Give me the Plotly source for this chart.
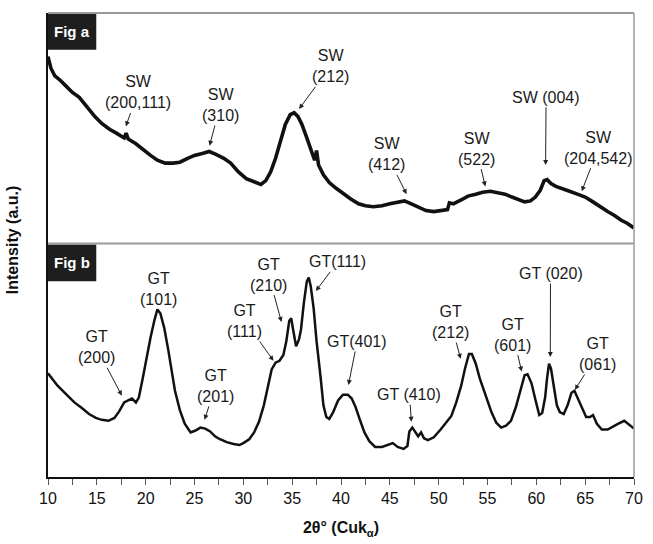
import plotly.graph_objects as go

# ---------------- data (2theta in degrees, intensity in a.u.) ----------------
sw_2theta = [10.0, 10.3, 10.7, 11.2, 11.8, 12.5, 13.2, 14.0, 14.8, 15.5, 16.3, 17.0, 17.8, 18.0, 18.2,
             19.0, 19.8, 20.5, 21.2, 22.0, 22.8, 23.5, 24.3, 25.0, 25.8, 26.5, 27.2, 28.0, 28.7, 29.5,
             30.3, 31.0, 31.8, 32.3, 32.8, 33.3, 33.8, 34.3, 34.8, 35.2, 35.6, 36.0, 36.5, 37.0, 37.3,
             37.5, 37.7, 38.2, 38.8, 39.5, 40.3, 41.0, 41.8, 42.5, 43.3, 44.2, 45.0, 45.8, 46.5, 47.2,
             48.0, 48.7, 49.5, 50.3, 50.9, 51.1, 51.5, 52.3, 53.0, 53.8, 54.5, 55.3, 56.0, 56.8, 57.5,
             58.2, 58.8, 59.4, 59.9, 60.4, 60.8, 61.1, 61.5, 62.0, 62.7, 63.4, 64.2, 65.0, 65.8, 66.5,
             67.3, 68.0, 68.7, 69.3, 70.0]
sw_intensity = [193, 181, 173, 169, 163, 156, 151, 141, 131, 124, 118, 114, 109, 114, 108,
                103, 96, 91, 86, 83, 83, 84, 88, 91, 93, 95, 92, 88, 83, 74,
                67, 64, 61, 65, 74, 88, 106, 123, 133, 135, 131, 123, 109, 93, 86,
                96, 81, 71, 63, 57, 51, 46, 41, 39, 38, 39, 41, 43, 44, 41,
                37, 34, 33, 34, 35, 42, 41, 45, 49, 51, 53, 54, 53, 51, 48,
                45, 43, 44, 48, 55, 65, 66, 62, 59, 56, 54, 51, 48, 43, 38,
                33, 29, 24, 21, 16]

gt_2theta = [10.0, 10.5, 11.0, 11.9, 12.7, 13.5, 14.2, 14.9, 15.5, 16.2, 16.8, 17.3, 17.8, 18.2, 18.6,
             19.0, 19.3, 19.7, 20.1, 20.5, 20.9, 21.2, 21.5, 21.9, 22.3, 22.7, 23.0, 23.5, 24.0, 24.6,
             25.1, 25.6, 26.1, 26.6, 27.1, 27.6, 28.3, 29.0, 29.6, 30.0, 30.6, 31.1, 31.6, 32.1, 32.5,
             32.9, 33.3, 33.7, 34.1, 34.4, 34.7, 34.9, 35.1, 35.4, 35.7, 35.9, 36.2, 36.5, 36.7, 36.9,
             37.2, 37.5, 37.9, 38.2, 38.5, 38.8, 39.2, 39.7, 40.2, 40.7, 41.1, 41.5, 41.9, 42.4, 42.9,
             43.5, 44.2, 44.8, 45.3, 45.8, 46.4, 46.8, 47.0, 47.3, 47.6, 47.9, 48.2, 48.5, 48.9, 49.5,
             50.2, 50.8, 51.3, 51.8, 52.3, 52.7, 53.1, 53.4, 53.8, 54.2, 54.8, 55.4, 55.9, 56.4, 56.9,
             57.4, 57.9, 58.4, 58.8, 59.1, 59.5, 59.9, 60.3, 60.6, 60.9, 61.1, 61.3, 61.5, 61.8, 62.1,
             62.4, 62.8, 63.2, 63.6, 63.9, 64.3, 64.7, 65.1, 65.5, 65.8, 66.2, 66.7, 67.3, 67.8, 68.4,
             69.0, 69.5, 70.0]
gt_intensity = [107, 100, 94, 85, 77, 71, 65, 61, 59, 58, 61, 68, 77, 79, 81,
                77, 82, 102, 124, 144, 162, 173, 169, 154, 132, 107, 89, 69, 55, 46,
                48, 51, 50, 47, 42, 39, 36, 34, 33, 35, 39, 46, 57, 74, 94,
                111, 118, 120, 126, 140, 161, 164, 152, 135, 142, 152, 180, 202, 206, 197,
                174, 140, 104, 74, 62, 60, 67, 79, 85, 85, 81, 72, 60, 46, 37,
                31, 31, 33, 35, 31, 29, 32, 47, 51, 47, 42, 46, 40, 38, 41,
                49, 56, 63, 77, 94, 112, 127, 127, 117, 102, 84, 67, 56, 51, 53,
                58, 72, 92, 105, 106, 97, 80, 64, 66, 82, 102, 117, 112, 92, 74,
                67, 65, 74, 87, 89, 80, 70, 62, 62, 64, 55, 49, 49, 52, 55,
                58, 54, 50]

tick_values = [10, 15, 20, 25, 30, 35, 40, 45, 50, 55, 60, 65, 70]

# annotations: (label, text x, text y, tip x, tip y)  -- tip None = no arrow
sw_labels = [
    ("SW<br>(200,111)", 19.2, 156, 17.97, 121),
    ("SW<br>(310)", 27.65, 143, 26.54, 101),
    ("SW<br>(212)", 38.94, 183, 35.71, 139),
    ("SW<br>(412)", 44.69, 92, 46.71, 51),
    ("SW<br>(522)", 53.87, 98, 54.77, 59),
    ("SW (004)", 61.0, 151, 60.95, 81),
    ("SW<br>(204,542)", 66.37, 99, 64.65, 54),
]
gt_labels = [
    ("GT<br>(200)", 14.94, 134, 17.56, 84),
    ("GT<br>(101)", 21.29, 194, None, None),
    ("GT<br>(201)", 27.14, 94, 26.03, 59),
    ("GT<br>(111)", 30.17, 161, 33.09, 120),
    ("GT<br>(210)", 32.59, 209, 33.90, 160),
    ("GT(111)", 39.65, 222, 37.43, 192),
    ("GT(401)", 41.66, 140, 40.76, 95),
    ("GT (410)", 47.01, 85, 47.21, 57),
    ("GT<br>(212)", 51.24, 160, 52.25, 122),
    ("GT<br>(601)", 57.60, 147, 58.50, 109),
    ("GT (020)", 61.45, 210, 61.43, 124),
    ("GT<br>(061)", 66.27, 127, 63.95, 90),
]

# ---------------- figure ----------------
split = 241 / 479
font_main = "Liberation Sans, Arial, sans-serif"
line_col = "#111111"
grey = "#9a9a9a"
lab_font = dict(family=font_main, size=16, color="#1a1a1a")

fig = go.Figure()
fig.add_trace(go.Scatter(x=sw_2theta, y=sw_intensity, mode="lines", xaxis="x", yaxis="y2",
                         line=dict(color=line_col, width=3.6), showlegend=False, hoverinfo="skip"))
fig.add_trace(go.Scatter(x=gt_2theta, y=gt_intensity, mode="lines", xaxis="x", yaxis="y",
                         line=dict(color=line_col, width=2.5), showlegend=False, hoverinfo="skip"))

annotations = []
for yref, labels in (("y2", sw_labels), ("y", gt_labels)):
    for text, tx, ty, px, py in labels:
        if px is None:
            annotations.append(dict(x=tx, y=ty, xref="x", yref=yref, text=text, showarrow=False,
                                    xanchor="center", yanchor="middle", font=lab_font))
        else:
            annotations.append(dict(x=px, y=py, xref="x", yref=yref, ax=tx, ay=ty,
                                    axref="x", ayref=yref, text=text, showarrow=True,
                                    arrowhead=2, arrowsize=1, arrowwidth=1, arrowcolor="#222222",
                                    font=lab_font))

# panel tags
annotations.append(dict(x=49 / 595 / 2, y=1 - 19 / 479, xref="paper", yref="paper", text="<b>Fig a</b>",
                        xanchor="center", yanchor="middle",
                        showarrow=False, font=dict(family=font_main, size=15, color="white")))
annotations.append(dict(x=49 / 595 / 2, y=split - 20 / 479, xref="paper", yref="paper", text="<b>Fig b</b>",
                        xanchor="center", yanchor="middle",
                        showarrow=False, font=dict(family=font_main, size=15, color="white")))
# y-axis title
annotations.append(dict(x=-36 / 595, y=244 / 479, xref="paper", yref="paper", text="<b>Intensity (a.u.)</b>",
                        xanchor="center", yanchor="middle",
                        textangle=-90, showarrow=False, font=dict(family=font_main, size=16, color="#111111")))

shapes = [
    # black boxes for panel tags
    dict(type="rect", xref="paper", yref="paper", x0=0, x1=49 / 595, y0=1 - 38 / 479, y1=1,
         fillcolor="#1e1e1e", line=dict(width=0)),
    dict(type="rect", xref="paper", yref="paper", x0=0, x1=49 / 595, y0=split - 39 / 479, y1=split - 1 / 479,
         fillcolor="#1e1e1e", line=dict(width=0)),
    # grey frame lines
    dict(type="line", xref="paper", yref="paper", x0=0, x1=1, y0=1, y1=1, line=dict(color=grey, width=2)),
    dict(type="line", xref="paper", yref="paper", x0=1, x1=1, y0=0, y1=1, line=dict(color=grey, width=1.5)),
    dict(type="line", xref="paper", yref="paper", x0=0, x1=1, y0=split, y1=split, line=dict(color=grey, width=2)),
]

fig.update_layout(
    width=653, height=544,
    margin=dict(l=48, r=10, t=13, b=52),
    paper_bgcolor="white", plot_bgcolor="white",
    font=dict(family=font_main, color="#111111"),
    xaxis=dict(range=[10, 70], tickvals=tick_values, ticks="outside", ticklen=6, tickwidth=1,
               tickcolor="#555555", showline=True, linecolor="#111111", linewidth=1.5,
               showgrid=False, zeroline=False, anchor="y",
               tickfont=dict(family=font_main, size=16, color="#111111"),
               minor=dict(dtick=2.5, tick0=10, ticks="outside", ticklen=6, tickcolor="#555555", showgrid=False),
               title=dict(text="<b>2θ° (Cuk<sub>α</sub>)</b>", font=dict(family=font_main, size=16), standoff=16)),
    yaxis=dict(domain=[0, split], range=[0, 241], showticklabels=False, ticks="", showgrid=False,
               zeroline=False, showline=True, linecolor="#111111", linewidth=1.5),
    yaxis2=dict(domain=[split, 1], range=[0, 238], showticklabels=False, ticks="", showgrid=False,
                zeroline=False, showline=True, linecolor="#111111", linewidth=1.5, anchor="x"),
    annotations=annotations,
    shapes=shapes,
)

fig.write_html("out.html")
